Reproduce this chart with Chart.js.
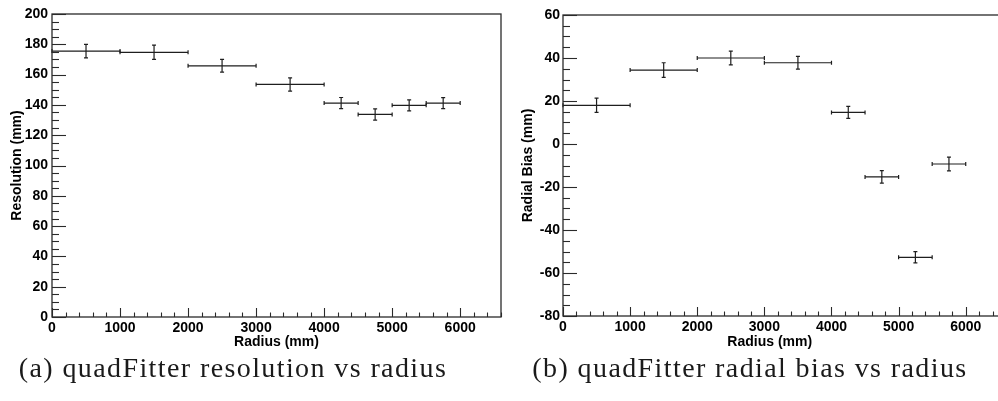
<!DOCTYPE html>
<html>
<head>
<meta charset="utf-8">
<script src="https://cdn.jsdelivr.net/npm/chart.js@4.4.1/dist/chart.umd.min.js"></script>
<style>
  html, body { margin: 0; padding: 0; background: #fff; overflow: hidden; width: 998px; height: 401px; }
  #wrap { position: relative; width: 998px; height: 401px; overflow: hidden; }
  canvas { position: absolute; top: 0; }
  #c1 { left: 0; }
  #c2 { left: 505px; }
  .cap { position: absolute; top: 352px; width: 520px; text-align: center; font-family: 'Liberation Serif', serif; font-size: 28px; line-height: 32px; letter-spacing: 1.4px; color: #1a1a1a; white-space: nowrap; }
  #cap1 { left: -27px; }
  #cap2 { left: 490px; }
</style>
</head>
<body>
<div id="wrap">
  <canvas id="c1" width="510" height="355"></canvas>
  <canvas id="c2" width="510" height="355"></canvas>
  <div class="cap" id="cap1">(a) quadFitter resolution vs radius</div>
  <div class="cap" id="cap2">(b) quadFitter radial bias vs radius</div>
</div>
<script>
// ---- data ----
const binLow  = [0, 1000, 2000, 3000, 4000, 4500, 5000, 5500];
const binHigh = [1000, 2000, 3000, 4000, 4500, 5000, 5500, 6000];
const resolution    = [175.5, 174.7, 165.8, 153.5, 141.2, 133.7, 139.7, 141.2];
const resolutionErr = [4.4, 4.7, 4.2, 4.4, 3.7, 3.7, 3.6, 3.6];
const bias    = [18.0, 34.4, 40.0, 37.8, 14.7, -15.3, -52.7, -9.3];
const biasErr = [3.3, 3.4, 3.2, 3.0, 2.8, 2.9, 2.6, 3.2];
const xTicks = [0, 1000, 2000, 3000, 4000, 5000, 6000];
const xTitle = 'Radius (mm)';

function points(vals, errs) {
  return vals.map((v, i) => ({
    x: (binLow[i] + binHigh[i]) / 2, y: v,
    xMin: binLow[i], xMax: binHigh[i], yErr: errs[i]
  }));
}

const tickFont = { family: "'Liberation Sans', Arial, sans-serif", size: 14, weight: 'bold' };
const titleFont = { family: "'Liberation Sans', Arial, sans-serif", size: 14, weight: 'bold' };

const rootStyle = {
  id: 'rootStyle',
  afterDatasetsDraw(chart, args, o) {
    const { ctx, chartArea: a, scales: { x, y } } = chart;
    ctx.save();
    ctx.lineCap = 'butt';
    // error bars
    ctx.strokeStyle = '#1e1e1e';
    ctx.lineWidth = 1.2;
    chart.data.datasets.forEach(ds => {
      ds.data.forEach(p => {
        const px = x.getPixelForValue(p.x), py = y.getPixelForValue(p.y);
        const x0 = x.getPixelForValue(p.xMin), x1 = x.getPixelForValue(p.xMax);
        const y0 = y.getPixelForValue(p.y - p.yErr), y1 = y.getPixelForValue(p.y + p.yErr);
        ctx.beginPath();
        ctx.moveTo(x0, py); ctx.lineTo(x1, py);
        ctx.moveTo(x0, py - 2); ctx.lineTo(x0, py + 2);
        ctx.moveTo(x1, py - 2); ctx.lineTo(x1, py + 2);
        ctx.moveTo(px, y0); ctx.lineTo(px, y1);
        ctx.moveTo(px - 2, y0); ctx.lineTo(px + 2, y0);
        ctx.moveTo(px - 2, y1); ctx.lineTo(px + 2, y1);
        ctx.stroke();
      });
    });
    // frame
    ctx.strokeStyle = '#2a2a2a';
    ctx.lineWidth = 1.3;
    ctx.strokeRect(a.left, a.top, a.right - a.left, a.bottom - a.top);
    // y ticks (inside)
    ctx.lineWidth = 1.1;
    for (let v = y.min; v <= y.max + 1e-6; v += o.yMinor) {
      const py = Math.round(y.getPixelForValue(v)) + 0.5;
      const major = Math.abs(Math.round(v / o.yMajor) * o.yMajor - v) < 1e-6;
      const len = major ? 14 : 7;
      ctx.beginPath(); ctx.moveTo(a.left, py); ctx.lineTo(a.left + len, py); ctx.stroke();
    }
    // x ticks (inside)
    for (let v = x.min; v <= x.max + 1e-6; v += o.xMinor) {
      const px = Math.round(x.getPixelForValue(v)) + 0.5;
      const major = Math.abs(Math.round(v / o.xMajor) * o.xMajor - v) < 1e-6;
      const len = major ? 9 : 4.5;
      ctx.beginPath(); ctx.moveTo(px, a.bottom); ctx.lineTo(px, a.bottom - len); ctx.stroke();
    }
    // x-axis title placed under a given radius (as in the reference layout)
    if (o.xTitleAt != null) {
      ctx.fillStyle = '#000';
      ctx.font = 'bold 14px "Liberation Sans", Arial, sans-serif';
      ctx.textAlign = 'center';
      ctx.textBaseline = 'middle';
      ctx.fillText(xTitle, x.getPixelForValue(o.xTitleAt), x.bottom - 12.4);
    }
    ctx.restore();
  }
};

function makeChart(id, vals, errs, yMin, yMax, yTitle, yWidth, pad, yTitlePad, xHeight, yTickPad, xTitleAt) {
  return new Chart(document.getElementById(id), {
    type: 'scatter',
    data: { datasets: [{ data: points(vals, errs), pointRadius: 0, showLine: false }] },
    options: {
      responsive: false, devicePixelRatio: 1, animation: false,
      layout: { autoPadding: false, padding: pad },
      plugins: { legend: { display: false }, tooltip: { enabled: false },
        rootStyle: { yMajor: 20, yMinor: 5, xMajor: 1000, xMinor: 200, xTitleAt: xTitleAt } },
      scales: {
        x: {
          type: 'linear', min: 0, max: 6600,
          grid: { display: false, drawTicks: false, tickLength: 0 }, border: { display: false },
          afterBuildTicks: s => { s.ticks = xTicks.map(v => ({ value: v })); },
          afterFit: s => { s.height = xHeight; },
          ticks: { color: '#000', font: tickFont, padding: 3, maxRotation: 0, autoSkip: false,
                   callback: v => String(v) },
          title: { display: xTitleAt == null, text: xTitle, color: '#000', font: titleFont, padding: { top: 0, bottom: 4 } }
        },
        y: {
          type: 'linear', min: yMin, max: yMax,
          grid: { display: false, drawTicks: false, tickLength: 0 }, border: { display: false },
          afterFit: s => { s.width = yWidth; },
          ticks: { color: '#000', font: tickFont, padding: yTickPad, stepSize: 20, autoSkip: false,
                   callback: v => String(v) },
          title: { display: true, text: yTitle, color: '#000', font: titleFont, padding: { top: yTitlePad, bottom: 0 } }
        }
      }
    },
    plugins: [rootStyle]
  });
}

makeChart('c1', resolution, resolutionErr, 0, 200, 'Resolution (mm)', 52,
  { left: 0, top: 14, right: 9, bottom: 0 }, 9, 38, 4, null);
makeChart('c2', bias, biasErr, -80, 60, 'Radial Bias (mm)', 58,
  { left: 0, top: 15, right: 9, bottom: 0 }, 14.5, 39, 3, 3080);
</script>
</body>
</html>
